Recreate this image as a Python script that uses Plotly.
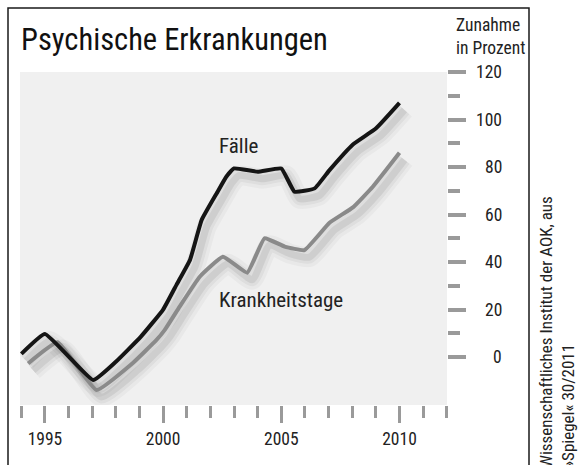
import plotly.graph_objects as go

# ---- data ----
faelle_years = [1994.0, 1995.0, 1997.04, 1998.0, 1999.06, 2000.0, 2000.57, 2001.14, 2001.63,
                2002.27, 2002.68, 2003.0, 2004.0, 2005.0, 2005.56, 2006.41, 2007.04, 2008.03,
                2009.01, 2010.0]
faelle = [1.3, 9.7, -9.7, -2.0, 8.6, 20.0, 30.5, 41.0, 57.7,
          69.0, 76.0, 79.4, 78.0, 79.4, 69.6, 71.0, 78.7, 89.5,
          96.3, 107.0]

tage_years = [1994.29, 1995.54, 1997.18, 1998.72, 1999.72, 2000.07, 2000.70, 2001.55, 2002.53,
              2003.56, 2004.29, 2005.14, 2005.98, 2007.04, 2008.03, 2008.87, 2010.0]
tage = [-2.7, 6.2, -13.9, -2.5, 7.2, 11.4, 21.2, 33.8, 42.2,
        35.5, 50.0, 46.5, 45.0, 56.5, 63.0, 71.7, 86.0]

y_tick_vals = [0, 20, 40, 60, 80, 100, 120]
y_tick_text = ["0", "20", "40", "60", "80", "100", "120"]
y_minor_vals = [10, 30, 50, 70, 90, 110]
x_tick_vals = [1995, 2000, 2005, 2010]
x_tick_text = ["1995", "2000", "2005", "2010"]
x_minor_vals = [y for y in range(1994, 2013) if y % 5 != 0]

title_text = "Psychische Erkrankungen"
unit_text = "Zunahme<br>in Prozent"
label_faelle = "Fälle"
label_tage = "Krankheitstage"
source_text = "Wissenschaftliches Institut der AOK, aus<br>»Spiegel« 30/2011"

FONT = "Liberation Sans Narrow, Arial Narrow, Roboto Condensed, DejaVu Sans Condensed, sans-serif"
TXT = "#222222"
TICK = "#9a9a9a"

XR = [1993.945, 2012.01]
YR = [-20.2, 120.0]
# shadow offset in data units (approx 5 px right, 7 px down)
SDX = 5 / 23.65
SDY = 7 / 2.375

fig = go.Figure()

# shadows on base (hidden) axes, shifted ranges
for yrs, vals in [(faelle_years, faelle), (tage_years, tage)]:
    for w, op in [(20, 0.03), (13, 0.045), (7, 0.07)]:
        fig.add_trace(go.Scatter(x=yrs, y=vals, mode="lines", xaxis="x", yaxis="y",
                                 line=dict(color="black", width=w, shape="spline", smoothing=0.5),
                                 opacity=op, hoverinfo="skip", showlegend=False))

# main lines on overlay axes
fig.add_trace(go.Scatter(x=tage_years, y=tage, mode="lines", xaxis="x2", yaxis="y2",
                         line=dict(color="#8a8a8a", width=4, shape="spline", smoothing=0.35),
                         showlegend=False))
fig.add_trace(go.Scatter(x=faelle_years, y=faelle, mode="lines", xaxis="x2", yaxis="y2",
                         line=dict(color="#151515", width=4, shape="spline", smoothing=0.35),
                         showlegend=False))

W, H = 580, 465
L, R, T, B = 20, 133, 72, 60
pw, ph = W - L - R, H - T - B


def px_x(px):
    return (px - L) / pw


def px_y(py):
    return (H - B - py) / ph


fig.update_layout(
    width=W, height=H,
    margin=dict(l=L, r=R, t=T, b=B),
    paper_bgcolor="white",
    plot_bgcolor="#f0f0f0",
    font=dict(family=FONT, color=TXT),
    showlegend=False,
    xaxis=dict(range=[XR[0] - SDX, XR[1] - SDX], visible=False, fixedrange=True),
    yaxis=dict(range=[YR[0] + SDY, YR[1] + SDY], visible=False, fixedrange=True),
    xaxis2=dict(range=XR, overlaying="x", anchor="y2", side="bottom",
                showgrid=False, zeroline=False, showline=False,
                tickmode="array", tickvals=x_tick_vals, ticktext=x_tick_text,
                ticks="outside", ticklen=17, tickwidth=3, tickcolor=TICK,
                tickfont=dict(size=17.5, color=TXT, family=FONT),
                ticklabelstandoff=1,
                minor=dict(tickmode="array", tickvals=x_minor_vals, ticks="outside",
                           ticklen=12, tickwidth=3, tickcolor=TICK, showgrid=False)),
    yaxis2=dict(range=YR, overlaying="y", anchor="x2", side="right",
                showgrid=False, zeroline=False, showline=False,
                tickmode="array", tickvals=y_tick_vals, ticks="outside",
                ticklen=18, tickwidth=4, tickcolor=TICK, showticklabels=False,
                minor=dict(tickmode="array", tickvals=y_minor_vals, ticks="outside",
                           ticklen=12, tickwidth=4, tickcolor=TICK, showgrid=False)),
)

ann = []
for v, t in zip(y_tick_vals, y_tick_text):
    ann.append(dict(x=px_x(504), y=v, xref="paper", yref="y2", text=t, showarrow=False,
                    xanchor="right", yanchor="middle", font=dict(size=17.5, color=TXT)))
ann += [
    dict(x=px_x(19), y=px_y(39.5), xref="paper", yref="paper", text=title_text, showarrow=False,
         xanchor="left", yanchor="middle", font=dict(size=30.5, color="#111111")),
    dict(x=px_x(454), y=px_y(36), xref="paper", yref="paper", text=unit_text, showarrow=False,
         xanchor="left", yanchor="middle", align="left", font=dict(size=17.5, color=TXT)),
    dict(x=2003.2, y=88.8, xref="x2", yref="y2", text=label_faelle, showarrow=False,
         xanchor="center", yanchor="middle", font=dict(size=21, color=TXT)),
    dict(x=2004.99, y=24.0, xref="x2", yref="y2", text=label_tage, showarrow=False,
         xanchor="center", yanchor="middle", font=dict(size=21, color=TXT)),
    dict(x=px_x(557), y=px_y(470), xref="paper", yref="paper", text=source_text, showarrow=False,
         textangle=-90, xanchor="center", yanchor="bottom", align="left",
         font=dict(size=17, color=TXT)),
]
fig.update_layout(annotations=ann)

fig.add_shape(type="rect", xref="paper", yref="paper",
              x0=px_x(8), x1=px_x(529), y0=px_y(480), y1=px_y(8),
              line=dict(color="#1a1a1a", width=1.5), fillcolor="rgba(0,0,0,0)", layer="above")

fig.write_html("out.html",
               config={"displayModeBar": False, "staticPlot": True},
               post_script="document.body.style.margin='0';document.body.style.overflow='hidden';")
